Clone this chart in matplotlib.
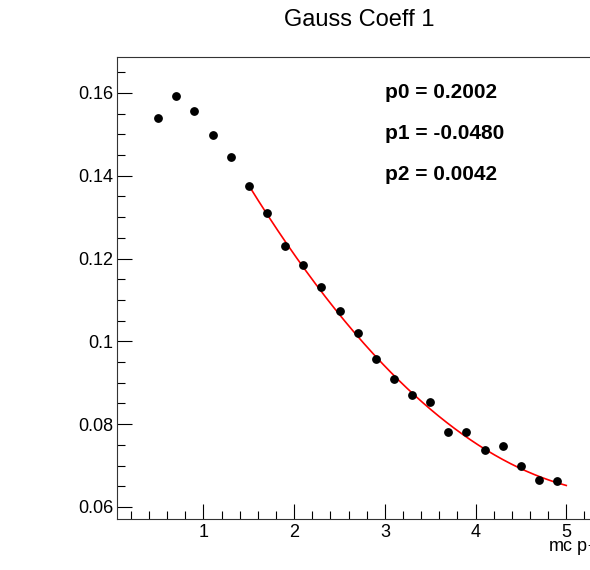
import numpy as np
import matplotlib
matplotlib.use("Agg")
import matplotlib.pyplot as plt
from matplotlib.ticker import MultipleLocator

plt.rcParams['font.family'] = ['Liberation Sans', 'DejaVu Sans']

# bin centres (mc pT) and fitted gauss coefficient
mc_pt = [0.5, 0.7, 0.9, 1.1, 1.3, 1.5, 1.7, 1.9, 2.1, 2.3, 2.5, 2.7, 2.9,
         3.1, 3.3, 3.5, 3.7, 3.9, 4.1, 4.3, 4.5, 4.7, 4.9]
coeff = [0.1539, 0.1593, 0.1556, 0.1498, 0.1446, 0.1376, 0.1311, 0.1230,
         0.1185, 0.1131, 0.1073, 0.1019, 0.0958, 0.0908, 0.0870, 0.0854,
         0.0781, 0.0781, 0.0737, 0.0747, 0.0698, 0.0666, 0.0662]

# pol2 fit parameters, as printed on the plot
fit_pars = [0.2002, -0.0480, 0.0042]
fit_range = [1.5, 5.0]

fig = plt.figure(figsize=(5.9, 5.7), dpi=100)
# frame runs past the right edge of the canvas like in the original
ax = fig.add_axes([117.3 / 590, 51 / 570, (600 - 117.3) / 590, (519 - 57.3) / 570])

ax.plot(mc_pt, coeff, 'o', color='black', markersize=5.3, zorder=3)

xf = np.linspace(fit_range[0], fit_range[1], 200)
yf = fit_pars[0] + fit_pars[1] * xf + fit_pars[2] * xf ** 2
ax.plot(xf, yf, color='red', lw=1.2, zorder=2)

x0 = 0.05
ax.set_xlim(x0, x0 + (600 - 117.3) / 90.7)
ax.set_ylim(0.0571, 0.1686)

ax.xaxis.set_major_locator(MultipleLocator(1))
ax.xaxis.set_minor_locator(MultipleLocator(0.2))
ax.yaxis.set_major_locator(MultipleLocator(0.02))
ax.yaxis.set_minor_locator(MultipleLocator(0.005))
ax.yaxis.set_major_formatter(plt.FuncFormatter(lambda v, p: f"{v:g}"))

ax.tick_params(which='both', direction='in', top=False, right=False,
               labelsize=13, color='black', width=0.8)
ax.tick_params(which='major', length=10.5)
ax.tick_params(which='minor', length=5.5)
ax.tick_params(axis='x', pad=3.5)
ax.tick_params(axis='y', pad=3)
for s in ax.spines.values():
    s.set_linewidth(0.8)
    s.set_color('#333333')

# axis title, clipped by the canvas edge as in the original
fig.text(547.5 / 590, 1 - 551 / 570, 'mc p$_{T}$ [GeV/c]', fontsize=13,
         ha='left', va='baseline')

fig.text(359 / 590, 1 - 20 / 570, 'Gauss Coeff 1', fontsize=17,
         ha='center', va='center')

for i, (name, val) in enumerate(zip(['p0', 'p1', 'p2'], fit_pars)):
    fig.text(385 / 590, 1 - (92 + 41 * i) / 570, f'{name} = {val:.4f}',
             fontsize=15, fontweight='bold', ha='left', va='center')

fig.savefig('out.png', dpi=100)
